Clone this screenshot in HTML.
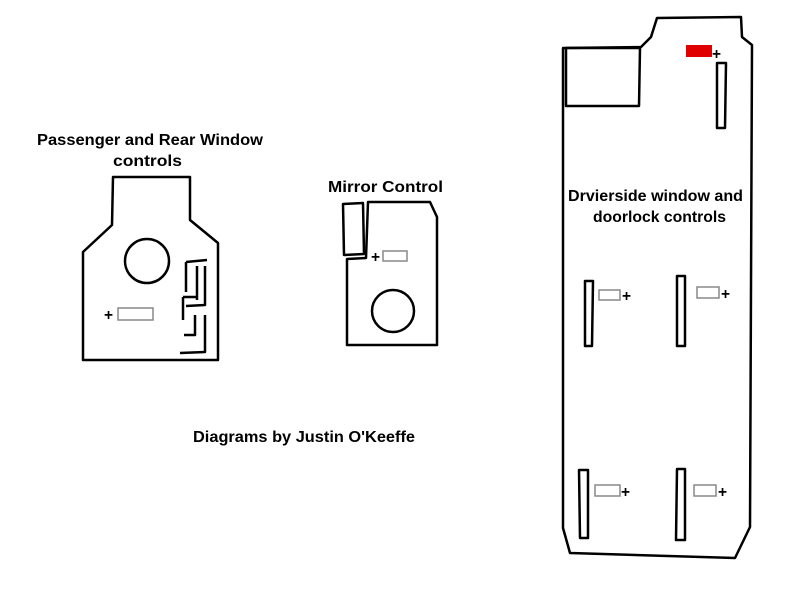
<!DOCTYPE html>
<html><head><style>body{margin:0;background:#fff}svg{display:block}text{font-family:"Liberation Sans",sans-serif;font-weight:bold;font-size:15.5px;fill:#000}</style></head><body>
<svg width="800" height="600" viewBox="0 0 800 600" xmlns="http://www.w3.org/2000/svg">
<g fill="none" stroke="#000" stroke-width="2.5" stroke-linejoin="round">
<path d="M113,177 L190,177 L190,220 L218,243 L218,360 L83,360 L83,252 L112,225 Z"/>
<circle cx="147" cy="261" r="22"/>
<path d="M186,262 L207,260 M186,262 L186,292 M197,266 L197,300 M205,266 L205,305 L186,306 M183,297 L183,320 M183,297 L196,297 M195,315 L195,335 L184,335 M205,315 L205,352 L180,353"/>
<path d="M368,202 L430,202 L437,217 L437,345 L347,345 L347,259 L366,258 Z"/>
<path d="M343,204 L363,203 L364,254 L344,255 Z"/>
<circle cx="393" cy="311" r="21"/>
<path d="M563,48 L641,47 L651,37 L657,18 L741,17 L742,37 L752,45 L750,527 L735,558 L570,553 L563,528 Z"/>
<path d="M566,48 L640,48 L639,106 L566,106 Z"/>
<path d="M717,63 L726,63 L725,128 L717,128 Z"/>
<path d="M585,281 L593,281 L592,346 L585,346 Z"/>
<path d="M677,276 L685,276 L685,346 L677,346 Z"/>
<path d="M579,470 L588,470 L588,538 L580,538 Z"/>
<path d="M677,469 L685,469 L685,540 L676,540 Z"/>
</g>
<g fill="#fff" stroke="#888" stroke-width="1.5">
<rect x="118" y="308" width="35" height="12"/>
<rect x="383" y="251" width="24" height="10"/>
<rect x="599" y="290" width="21" height="10"/>
<rect x="697" y="287" width="22" height="11"/>
<rect x="595" y="485" width="25" height="11"/>
<rect x="694" y="485" width="22" height="11"/>
</g>
<rect x="686" y="45" width="26" height="12" fill="#e00000"/>
<g style="font-size:17px">
<text x="104" y="320">+</text>
<text x="371" y="262">+</text>
<text x="712" y="59">+</text>
<text x="622" y="301">+</text>
<text x="721" y="299">+</text>
<text x="621" y="497">+</text>
<text x="718" y="497">+</text>
</g>
<text x="37" y="145" textLength="226" lengthAdjust="spacingAndGlyphs">Passenger and Rear Window</text>
<text x="113" y="166" textLength="69" lengthAdjust="spacingAndGlyphs">controls</text>
<text x="328" y="192" textLength="115" lengthAdjust="spacingAndGlyphs">Mirror Control</text>
<text x="568" y="201" textLength="175" lengthAdjust="spacingAndGlyphs">Drvierside window and</text>
<text x="593" y="222" textLength="133" lengthAdjust="spacingAndGlyphs">doorlock controls</text>
<text x="193" y="442" textLength="222" lengthAdjust="spacingAndGlyphs">Diagrams by Justin O'Keeffe</text>
</svg>
</body></html>
